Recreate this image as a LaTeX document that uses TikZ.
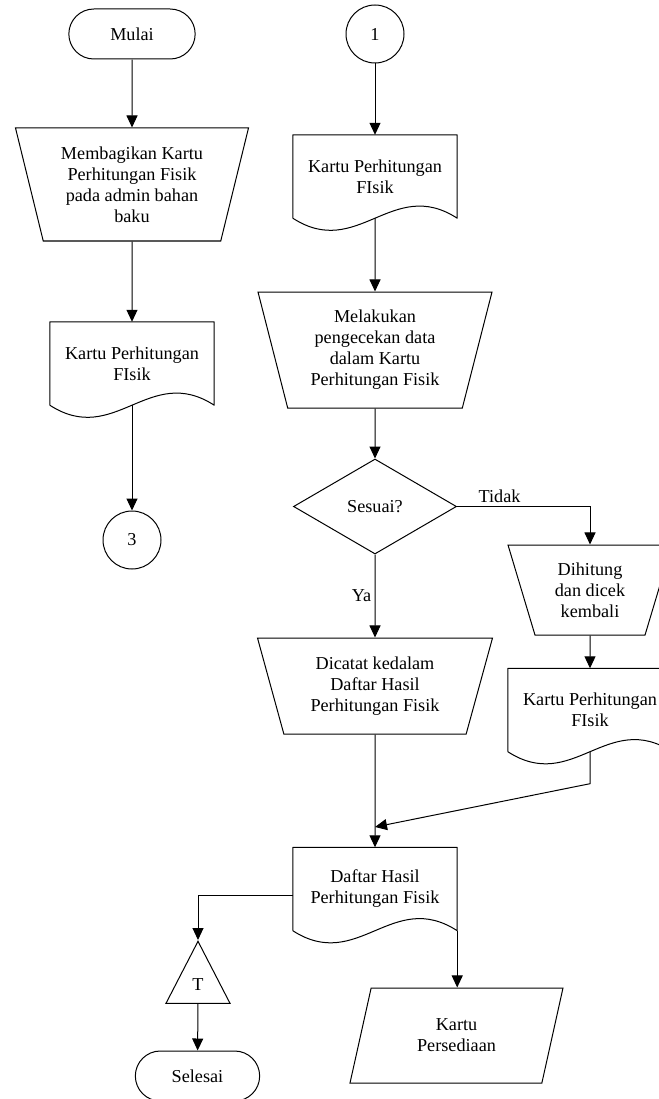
\documentclass[tikz,border=0pt]{standalone}
\usepackage{fontspec}
\setmainfont{Liberation Serif}
\usetikzlibrary{positioning,arrows.meta,shapes.geometric,shapes.misc}
\newcommand{\flowfont}{\fontsize{18.2}{21}\selectfont}
\tikzset{
  >={Triangle[length=12pt,width=11pt]},
  flow/.style={
    draw,
    line width=1pt,
    align=center
  },
  terminal/.style={
    flow,
    rounded rectangle,
    minimum width=133,
    minimum height=50
  },
  connector/.style={
    flow,
    circle,
    minimum size=58
  },
  manual op/.style={
    flow,
    trapezium,
    trapezium stretches body=true,
    shape border rotate=180,
    trapezium angle=#1
  },
  docbox/.style={
    align=center,
    minimum width=164,
    minimum height=83
  },
  decision/.style={
    flow,
    diamond,
    minimum width=163,
    minimum height=95,
    inner sep=0pt
  },
  archive/.style={
    flow,
    isosceles triangle,
    isosceles triangle stretches=true,
    shape border rotate=90,
    minimum width=64,
    minimum height=62,
    inner sep=0pt
  },
  data io/.style={
    flow,
    trapezium,
    trapezium stretches body=true,
    trapezium left angle=62,
    trapezium right angle=118,
    minimum width=213,
    minimum height=95
  },
  flowline/.style={draw,line width=1pt,->},
  docline/.style={line width=1pt,line join=round}
}

\begin{document}
\begin{tikzpicture}[x=1pt,y=-1pt,font=\flowfont]
\useasboundingbox (0,0) rectangle (658,1099);
% left column
\node[terminal] (mulai) at (132,34) {Mulai};
\node[manual op=71.4,minimum width=233,minimum height=113] (bagi) at (132,184.5) {Membagikan Kartu\\Perhitungan Fisik\\pada admin bahan\\baku};
\node[docbox] (kartuA) at (132,363.5) {Kartu Perhitungan\\FIsik};
\node[connector] (tiga) at (132,540) {3};
% right column
\node[connector] (satu) at (375,34) {1};
\node[docbox] (kartuB) at (375,176.5) {Kartu Perhitungan\\FIsik};
\node[manual op=71,minimum width=234,minimum height=116] (cek) at (375,350) {Melakukan\\pengecekan data\\dalam Kartu\\Perhitungan Fisik};
\node[decision] (sesuai) at (375,506.5) {Sesuai?};
\node[manual op=66.3,minimum width=164,minimum height=90] (hitung) at (590,590) {Dihitung\\dan dicek\\kembali};
\node[docbox] (kartuC) at (590,710) {Kartu Perhitungan\\FIsik};
\node[manual op=68,minimum width=235,minimum height=96] (catat) at (375,686) {Dicatat kedalam\\Daftar Hasil\\Perhitungan Fisik};
\node[docbox] (daftar) at (375,889) {Daftar Hasil\\Perhitungan Fisik};
\node[archive,anchor=apex] (arsip) at (198,940) {T};
\node[terminal,minimum width=131] (selesai) at (197.5,1076) {Selesai};
\node[data io] (sedia) at (456.5,1035.5) {Kartu\\Persediaan};
\coordinate (gabung) at (375,827);

% document outlines
\foreach \d in {kartuA,kartuB,kartuC,daftar}
  \draw[docline] (\d.south west) -- (\d.north west) -- (\d.north east) -- (\d.south east)
    .. controls +(-65,-42) and +(65,42) .. (\d.south west);

% connectors
\draw[flowline] (mulai) -- (bagi);
\draw[flowline] (bagi) -- (kartuA);
\draw[flowline] (kartuA.south) -- (tiga);
\draw[flowline] (satu) -- (kartuB);
\draw[flowline] (kartuB.south) -- (cek);
\draw[flowline] (cek) -- (sesuai);
\draw[flowline] (sesuai.east) -| node[above,pos=0.16] {Tidak} (hitung);
\draw[flowline] (sesuai) -- node[left] {Ya} (catat);
\draw[flowline] (hitung) -- (kartuC);
\draw[flowline] (kartuC.south) -- ++(0,32) -- (gabung);
\draw[flowline] (catat) -- (daftar);
\draw[flowline] ([yshift=-6pt]daftar.west) -| (arsip);
\draw[flowline] (arsip) -- (selesai);
\draw[flowline] (daftar.south east) -- (daftar.south east |- sedia.north);
\end{tikzpicture}
\end{document}
